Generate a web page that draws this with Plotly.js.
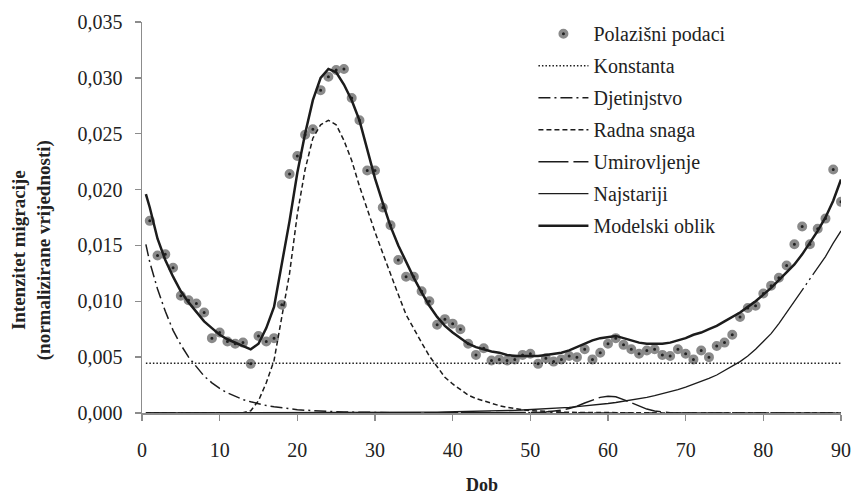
<!DOCTYPE html>
<html>
<head>
<meta charset="utf-8">
<script src="https://cdn.plot.ly/plotly-3.0.1.min.js"></script>
<style>html,body{margin:0;padding:0;background:#fff;}#chart{width:853px;height:497px;}</style>
</head>
<body>
<div id="chart"></div>
<script>
// ---- data ----
const pointAges = [1,2,3,4,5,6,7,8,9,10,11,12,13,14,15,16,17,18,19,20,21,22,23,24,25,26,27,28,29,30,31,32,33,34,35,36,37,38,39,40,41,42,43,44,45,46,47,48,49,50,51,52,53,54,55,56,57,58,59,60,61,62,63,64,65,66,67,68,69,70,71,72,73,74,75,76,77,78,79,80,81,82,83,84,85,86,87,88,89,90];
const pointValues = [0.0172,0.0141,0.0142,0.0130,0.0105,0.0101,0.0098,0.0090,0.0067,0.0072,
  0.0064,0.0062,0.0063,0.0044,0.0069,0.0064,0.0067,0.0097,0.0214,0.0230,
  0.0249,0.0254,0.0289,0.0301,0.0307,0.0308,0.0282,0.0262,0.0217,0.0217,
  0.0184,0.0168,0.0137,0.0122,0.0122,0.0109,0.0100,0.0079,0.0084,0.0080,
  0.0075,0.0062,0.0052,0.0058,0.0047,0.0048,0.0047,0.0048,0.0052,0.0053,
  0.0044,0.0049,0.0046,0.0048,0.0051,0.0050,0.0057,0.0048,0.0054,0.0062,
  0.0067,0.0061,0.0057,0.0053,0.0056,0.0057,0.0052,0.0051,0.0057,0.0053,
  0.0048,0.0056,0.0050,0.0060,0.0063,0.0070,0.0086,0.0094,0.0096,0.0107,
  0.0114,0.0121,0.0132,0.0151,0.0167,0.0151,0.0165,0.0174,0.0218,0.0189];

const curveAges = [0.5,1,2,3,4,5,6,7,8,9,10,11,12,13,14,15,16,17,18,19,20,21,22,23,24,25,26,27,28,29,30,31,32,33,34,35,36,37,38,39,40,41,42,43,44,45,46,47,48,49,50,51,52,53,54,55,56,57,58,59,60,61,62,63,64,65,66,67,68,69,70,71,72,73,74,75,76,77,78,79,80,81,82,83,84,85,86,87,88,89,90];

const konstAges = [0.5, 90];
const konstanta = [0.00445, 0.00445];

const djetinjstvo = [0.0151,0.0135,0.0111,0.0091,0.0074,0.0061,0.0050,0.0041,0.0033,0.0027,
  0.0022,0.0018,0.0015,0.0012,0.0010,0.00082,0.00067,0.00055,0.00045,0.00037,
  0.00030,0.00025,0.00020,0.00017,0.00014,0.00011,0.00009,0.00007,0.00006,0.00005,
  0.00004,0.00003,0.00003,0.00002,0.00002,0.00001,0.00001,0.00001,0.00001,0.00001,
  0,0,0,0,0,0,0,0,0,0,0,0,0,0,0,0,0,0,0,0,0,0,0,0,0,0,0,0,0,0,0,0,0,0,0,0,0,0,0,0,0,0,0,0,0,0,0,0,0,0,0];

const radnaSnaga = [0,0,0,0,0,0,0,0,0,0,0,0,0,
  0.00002,0.0002,0.0011,0.0027,0.0047,0.0086,0.0125,
  0.0178,0.0218,0.0246,0.0258,0.0262,0.0258,0.0244,0.0226,0.0203,0.0182,
  0.0162,0.0143,0.0124,0.0106,0.0088,0.0075,0.0063,0.0051,0.0041,0.0032,
  0.0026,0.0021,0.0016,0.0013,0.00108,0.00085,0.00066,0.0005,0.00038,0.00029,
  0.00022,0.00017,0.00013,0.0001,0.00008,0.00006,0.00005,0.00004,0.00003,0.00003,
  0.00002,0.00001,0.00001,0.00001,0.00001,0.00001,0.00001,0.00001,0.00001,0.00001,
  0,0,0,0,0,0,0,0,0,0,0,0,0,0,0,0,0,0,0,0,0];

const umirovljenje = [0,0,0,0,0,0,0,0,0,0,0,0,0,0,0,0,0,0,0,0,0,0,0,0,0,0,0,0,0,0,0,0,0,0,0,0,0,0,0,0,0,0,0,0,0,0,0,0,0,0,
  0.00002,0.00004,0.00008,0.00015,0.00025,0.0004,0.0006,0.0009,0.00118,0.0014,
  0.0015,0.00145,0.0012,0.0009,0.0006,0.00035,0.00018,0.00008,0.00003,0.00001,
  0,0,0,0,0,0,0,0,0,0,0,0,0,0,0,0,0,0,0,0,0];

const najstariji = [0.00002,0.00002,0.00002,0.00002,0.00002,0.00002,0.00002,0.00002,0.00002,0.00002,
  0.00002,0.00002,0.00002,0.00002,0.00002,0.00002,0.00002,0.00002,0.00002,0.00002,
  0.00002,0.00002,0.00002,0.00002,0.00002,0.00002,0.00002,0.00002,0.00002,0.00002,0.00002,
  0.00003,0.00004,0.00004,0.00005,0.00006,0.00006,0.00007,0.00008,0.00009,
  0.0001,0.00011,0.00012,0.00014,0.00015,0.00017,0.00019,0.00021,0.00024,0.00027,
  0.0003,0.00033,0.00037,0.00041,0.00046,0.00051,0.00057,0.00063,0.0007,0.00077,
  0.00085,0.00094,0.00104,0.00115,0.00127,0.0014,0.00155,0.00171,0.00189,0.00209,
  0.00231,0.00255,0.0028,0.0031,0.0034,0.0038,0.0042,0.0046,0.0051,0.0057,
  0.0064,0.0071,0.0080,0.0090,0.0100,0.0110,0.0120,0.0130,0.0140,0.0152,0.0163];

const modelskiOblik = [0.0196,0.0184,0.0156,0.0137,0.0122,0.0109,0.0099,0.0090,0.0082,0.0076,
  0.0070,0.0066,0.0063,0.0060,0.0057,0.0062,0.0076,0.0095,0.0133,0.0172,
  0.0215,0.0250,0.0280,0.0300,0.0308,0.0305,0.0294,0.0280,0.0262,0.0236,
  0.0210,0.0188,0.0167,0.0150,0.0135,0.0121,0.0108,0.0096,0.0086,0.0078,
  0.0072,0.0067,0.0062,0.0059,0.0057,0.0055,0.0054,0.0052,0.0051,0.0051,
  0.0051,0.0051,0.0052,0.0053,0.0054,0.0056,0.0059,0.0062,0.0065,0.0067,
  0.0068,0.0069,0.0067,0.0065,0.0063,0.0062,0.0062,0.0062,0.0063,0.0065,
  0.0067,0.0070,0.0072,0.0075,0.0078,0.0082,0.0086,0.0090,0.0095,0.0100,
  0.0106,0.0112,0.0119,0.0126,0.0133,0.0142,0.0152,0.0163,0.0175,0.0190,0.0209];

const seriesNames = ['Polazišni podaci','Konstanta','Djetinjstvo','Radna snaga','Umirovljenje','Najstariji','Modelski oblik'];
const xTickVals = [0,10,20,30,40,50,60,70,80,90];
const xTitle = 'Dob';
const yTitle = ['Intenzitet migracije', '(normalizirane vrijednosti)'];

// ---- chart ----
const INK = '#1c1c1c';
const FONT = 'Liberation Serif, DejaVu Serif, serif';

function lineTrace(name, x, y, dash, width, grp) {
  return {type:'scatter', mode:'lines', name:name, x:x, y:y, legendgroup:grp,
    line:{color:INK, width:width, dash:dash}, hoverinfo:'skip'};
}

const traces = [
  {type:'scatter', mode:'markers', name:seriesNames[0], x:pointAges, y:pointValues, legendgroup:'g0',
    marker:{symbol:'circle', size:6.5, color:'#222', line:{color:'#8a8a8a', width:3.5}}, hoverinfo:'skip'},
  lineTrace(seriesNames[1], konstAges, konstanta, '1.5px,2px', 1.5, 'g1'),
  lineTrace(seriesNames[2], curveAges.slice(0, djetinjstvo.length), djetinjstvo, '12px,4px,2px,4px', 1.5, 'g2'),
  lineTrace(seriesNames[3], curveAges, radnaSnaga, '5px,3px', 1.5, 'g3'),
  lineTrace(seriesNames[4], curveAges, umirovljenje, '30px,5px', 1.5, 'g4'),
  lineTrace(seriesNames[5], curveAges, najstariji, '700px,4px,2px,4px,2px,4px', 1.3, 'g5'),
  lineTrace(seriesNames[6], curveAges, modelskiOblik, 'solid', 2.5, 'g6')
];

const axisCommon = {
  showline:true, linecolor:'#8c8c8c', linewidth:1.5, showgrid:false, zeroline:false,
  ticks:'outside', ticklen:6, tickwidth:1.5, tickcolor:'#8c8c8c',
  tickfont:{family:FONT, size:20, color:'#222'}
};

const layout = {
  width:853, height:497,
  margin:{l:142, r:12, t:22, b:84, pad:0},
  paper_bgcolor:'#fff', plot_bgcolor:'#fff',
  separators:',.',
  showlegend:true,
  font:{family:FONT, color:'#222'},
  xaxis:Object.assign({}, axisCommon, {range:[0,90], tickvals:xTickVals, ticklabelstandoff:12}),
  yaxis:Object.assign({}, axisCommon, {range:[0,0.035], dtick:0.005, tick0:0, tickformat:'.3f', ticklabelstandoff:8}),
  legend:{x:0.56, y:1.02, xanchor:'left', yanchor:'top', bgcolor:'rgba(0,0,0,0)',
    font:{family:FONT, size:20, color:'#222'}, traceorder:'grouped', tracegroupgap:3, itemwidth:50},
  annotations:[
    {xref:'paper', yref:'paper', x:-0.157, y:0.417, xanchor:'center', yanchor:'middle', textangle:-90,
      showarrow:false, text:'<b>'+yTitle[0]+'</b><br><b>'+yTitle[1]+'</b>', font:{family:FONT, size:19, color:'#222'}},
    {xref:'paper', yref:'paper', x:0.486, y:-0.183, xanchor:'center', yanchor:'middle',
      showarrow:false, text:'<b>'+xTitle+'</b>', font:{family:FONT, size:18, color:'#222'}}
  ]
};

Plotly.newPlot('chart', traces, layout, {staticPlot:true, displayModeBar:false});
</script>
</body>
</html>
